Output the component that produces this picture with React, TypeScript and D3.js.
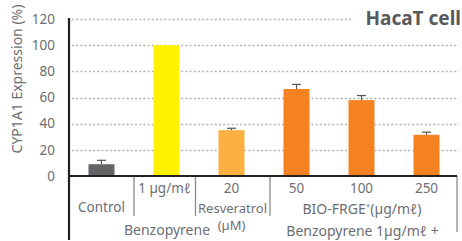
import * as d3 from "d3";

const categories = ["Control", "BaP", "Res20", "BIO50", "BIO100", "BIO250"];
const values = [9, 100, 35, 66.5, 58, 31.5];
const errors = [3, 0, 1.5, 3.5, 3.5, 2];
const colors = ["#636466", "#fff200", "#fbb040", "#f58220", "#f58220", "#f58220"];
const doseLabels = ["", "1 µg/mℓ", "20", "50", "100", "250"];
const yTicks = [0, 20, 40, 60, 80, 100, 120];

export default function App({
  width = 462,
  height = 241,
  marginLeft = 69,
  marginRight = 3,
  marginTop = 19,
  baseline = 176,
}) {
  const x = d3
    .scaleBand(categories, [marginLeft, width - marginRight])
    .paddingInner(0.6)
    .paddingOuter(0.3);
  const y = d3.scaleLinear([0, 120], [baseline, marginTop]);
  const bw = x.bandwidth();
  const cx = (c: string) => (x(c) ?? 0) + bw / 2;
  const step = x.step();
  const right = 457;
  const font = "'Noto Sans', 'DejaVu Sans', sans-serif";
  const grey = "#6d6e71";

  // separators in the label table under the axis
  const seps = [
    (x("BaP") ?? 0) - (step - bw) / 2,
    (x("BaP") ?? 0) + bw + 16,
    (x("Res20") ?? 0) + bw + 25.5,
  ];

  return (
    <svg width={width} height={height} style={{ display: "block" }} fontFamily={font}>
      <style>{`body{margin:0}`}</style>
      <rect width={width} height={height} fill="white" />
      <title>CYP1A1 expression in HacaT cells</title>

      {/* gridlines */}
      <g stroke="#b3b3b3" strokeWidth={1.3} strokeDasharray="2,2.2">
        {yTicks
          .filter((t) => t > 0)
          .map((t) => (
            <line
              key={t}
              x1={marginLeft + 3}
              x2={t === 120 ? 352 : width - 3}
              y1={Math.round(y(t)) + 0.5}
              y2={Math.round(y(t)) + 0.5}
            />
          ))}
      </g>

      {/* bars */}
      {categories.map((c, i) => (
        <rect
          key={c}
          x={x(c)}
          y={y(values[i])}
          width={bw}
          height={baseline - y(values[i])}
          fill={colors[i]}
        />
      ))}

      {/* error bars */}
      <g stroke="#555" strokeWidth={1.2}>
        {categories.map((c, i) =>
          errors[i] > 0 ? (
            <g key={c}>
              <line x1={cx(c)} x2={cx(c)} y1={y(values[i])} y2={y(values[i] + errors[i])} />
              <line
                x1={cx(c) - 4.5}
                x2={cx(c) + 4.5}
                y1={y(values[i] + errors[i])}
                y2={y(values[i] + errors[i])}
              />
            </g>
          ) : null
        )}
      </g>

      {/* table lines */}
      <g stroke="#8a8a8a" strokeWidth={1.3}>
        {seps.map((s, i) => (
          <line key={i} x1={s} x2={s} y1={baseline} y2={216} />
        ))}
        <line x1={right} x2={right} y1={baseline} y2={232} />
      </g>

      {/* axes */}
      <line x1={marginLeft} x2={right} y1={baseline} y2={baseline} stroke="#231f20" strokeWidth={2} />
      <line x1={marginLeft} x2={marginLeft} y1={marginTop - 1} y2={240} stroke="#231f20" strokeWidth={2.2} />

      {/* y ticks */}
      <g fill={grey} fontSize={13.5} textAnchor="end">
        {yTicks.map((t) => (
          <text key={t} x={55} y={y(t) + 4.8}>
            {t}
          </text>
        ))}
      </g>
      <text
        transform={`translate(22, 79) rotate(-90)`}
        textAnchor="middle"
        fill={grey}
        fontSize={14}
      >
        CYP1A1 Expression (%)
      </text>

      {/* x labels */}
      <g fill={grey} fontSize={13.5} textAnchor="middle">
        {categories.map((c, i) =>
          doseLabels[i] ? (
            <text key={c} x={cx(c) - (i === 1 ? 2 : 0)} y={193}>
              {doseLabels[i]}
            </text>
          ) : null
        )}
        <text x={cx("Control")} y={212}>Control</text>
        <text x={cx("Res20") + 1} y={213} fontSize={13}>Resveratrol</text>
        <text x={cx("Res20")} y={230} fontSize={13}>(µM)</text>
        <text x={cx("BaP") + 0.5} y={235} fontSize={14}>Benzopyrene</text>
        <text x={cx("BIO100") + 0.5} y={214} fontSize={14}>
          BIO-FRGE<tspan fontSize={8} dy={-5}>+</tspan>
          <tspan dy={5}>(µg/mℓ)</tspan>
        </text>
        <text x={cx("BIO100") + 1} y={235.5} fontSize={14}>Benzopyrene 1µg/mℓ +</text>
      </g>

      {/* title */}
      <text x={461} y={25} textAnchor="end" fontWeight="bold" fontSize={19} fill="#58595b">
        HacaT cell
      </text>
    </svg>
  );
}
